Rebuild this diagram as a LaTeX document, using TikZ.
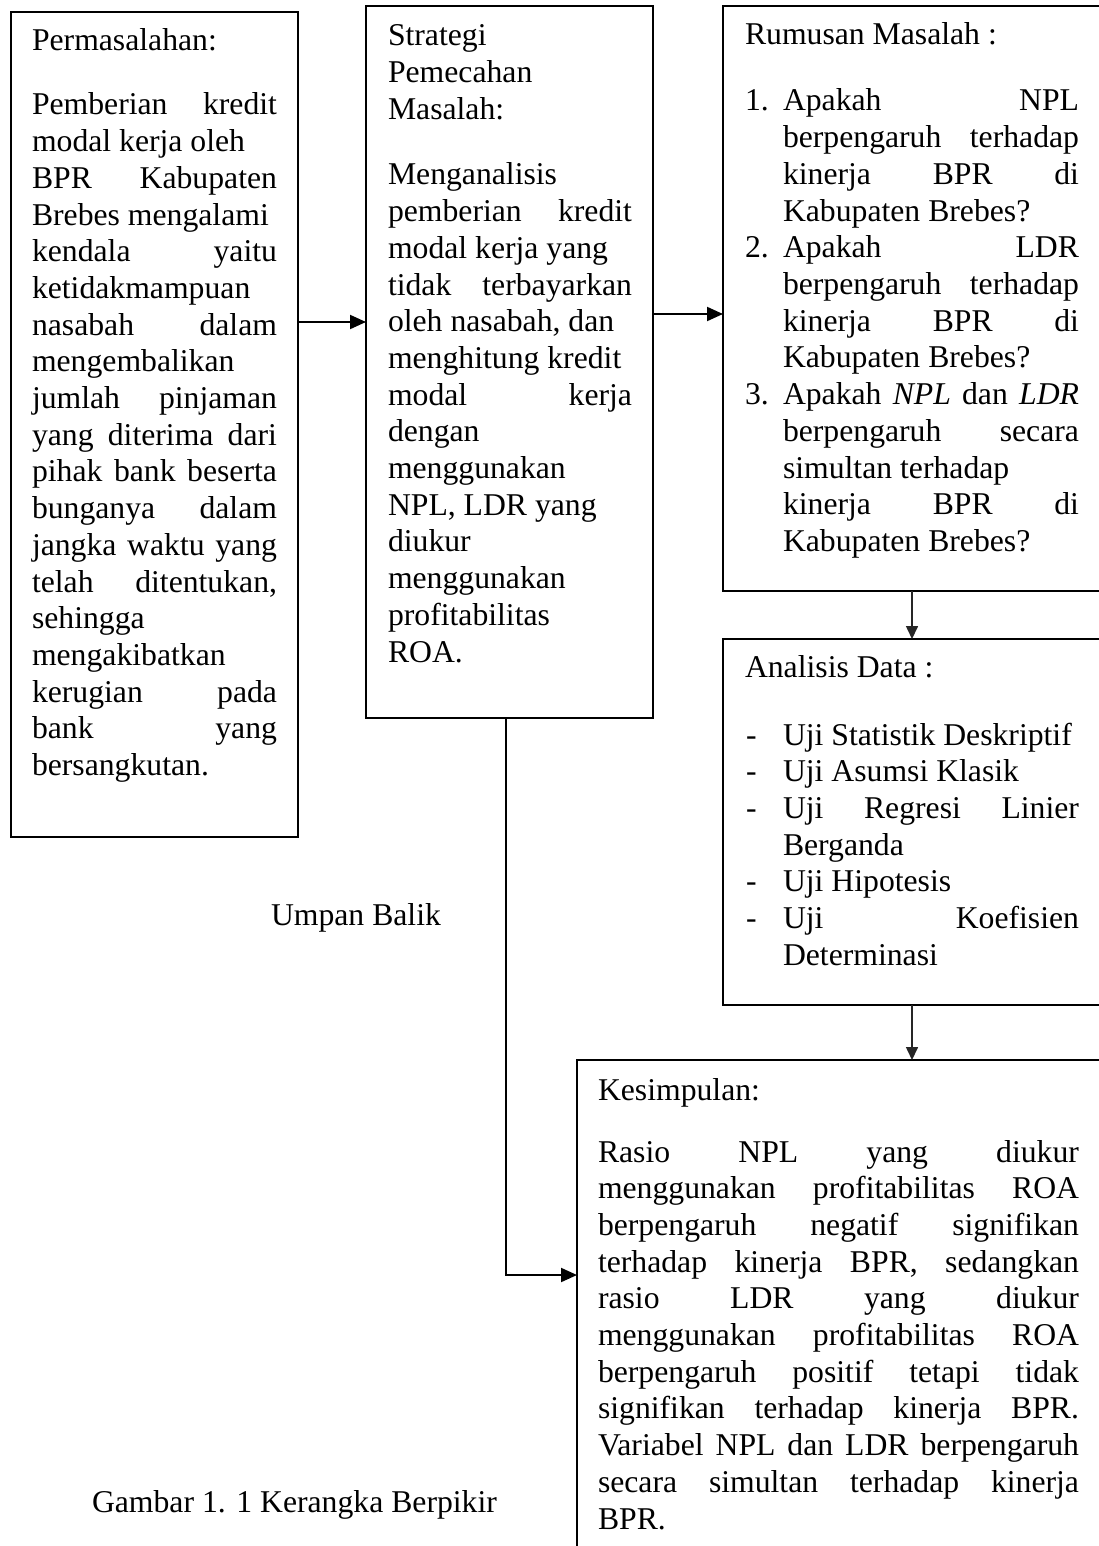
\documentclass[tikz,border=0pt]{standalone}
\usepackage{fontspec}
\setmainfont{Liberation Serif}
\usetikzlibrary{arrows.meta}
\newcommand{\J}[1]{\makebox[\linewidth][s]{#1}}
\begin{document}
\begin{tikzpicture}[x=1pt,y=-1pt,
  box/.style={draw, line width=2pt, inner sep=0pt, outer sep=0pt, anchor=north west},
  txt/.style={anchor=base west, inner sep=0pt, outer sep=0pt, font=\fontsize{31.7}{36.7}\selectfont},
  harrow/.style={line width=2pt, -{Triangle[length=16pt,width=14pt]}},
  varrow/.style={line width=1.6pt, draw=black!85, -{Triangle[length=13pt,width=12pt]}}]
\useasboundingbox (0,0) rectangle (1098,1546);
\fill[white] (0,0) rectangle (1098,1546);

% boxes
\node[box, minimum width=287pt, minimum height=825pt] (b1) at (11,12) {};
\node[box, minimum width=287pt, minimum height=712pt] (b2) at (366,6) {};
\node[box, minimum width=387pt, minimum height=585pt] (b3) at (723,6) {};
\node[box, minimum width=387pt, minimum height=366pt] (b4) at (723,639) {};
\node[box, minimum width=533pt, minimum height=520pt] (b5) at (577,1060) {};

% connector helpers
\coordinate (y1) at (0,322);
\coordinate (y2) at (0,314);
\coordinate (ax) at (912,0);
\coordinate (fb) at (506,1275);

\draw[harrow] (b1.east |- y1) -- (b2.west |- y1);
\draw[harrow] (b2.east |- y2) -- (b3.west |- y2);
\draw[varrow] (b3.south -| ax) -- (b4.north -| ax);
\draw[varrow] (b4.south -| ax) -- (b5.north -| ax);
\draw[harrow] (b2.south -| fb) -- (fb) -- (b5.west |- fb);

% box 1 text
\node[txt] (h1) at (32,51) {Permasalahan:};
\node[txt] (t1) at (32,115) {\parbox[t]{245pt}{%
\J{Pemberian kredit}\\
modal kerja oleh\\
\J{BPR Kabupaten}\\
Brebes mengalami\\
\J{kendala yaitu}\\
ketidakmampuan\\
\J{nasabah dalam}\\
mengembalikan\\
\J{jumlah pinjaman}\\
\J{yang diterima dari}\\
\J{pihak bank beserta}\\
\J{bunganya dalam}\\
\J{jangka waktu yang}\\
\J{telah ditentukan,}\\
sehingga\\
mengakibatkan\\
\J{kerugian pada}\\
\J{bank yang}\\
bersangkutan.}};

% box 2 text
\node[txt] (h2) at (388,46) {\parbox[t]{244pt}{Strategi\\Pemecahan\\Masalah:}};
\node[txt] (t2) at (388,185) {\parbox[t]{244pt}{%
Menganalisis\\
\J{pemberian kredit}\\
modal kerja yang\\
\J{tidak terbayarkan}\\
oleh nasabah, dan\\
menghitung kredit\\
\J{modal kerja}\\
dengan\\
menggunakan\\
NPL, LDR yang\\
diukur\\
menggunakan\\
profitabilitas\\
ROA.}};

% box 3 text
\node[txt] (h3) at (745,45) {Rumusan Masalah :};
\node[txt] (n31) at (745,111) {1.};
\node[txt] (t31) at (783,111) {\parbox[t]{296pt}{%
\J{Apakah NPL}\\
\J{berpengaruh terhadap}\\
\J{kinerja BPR di}\\
Kabupaten Brebes?}};
\node[txt] (n32) at (745,257.8) {2.};
\node[txt] (t32) at (783,257.8) {\parbox[t]{296pt}{%
\J{Apakah LDR}\\
\J{berpengaruh terhadap}\\
\J{kinerja BPR di}\\
Kabupaten Brebes?}};
\node[txt] (n33) at (745,404.6) {3.};
\node[txt] (t33) at (783,404.6) {\parbox[t]{296pt}{%
\J{Apakah \textit{NPL} dan \textit{LDR}}\\
\J{berpengaruh secara}\\
simultan terhadap\\
\J{kinerja BPR di}\\
Kabupaten Brebes?}};

% box 4 text
\node[txt] (h4) at (745,677) {Analisis Data :};
\node[txt] (d41) at (746,745) {-};
\node[txt] (d42) at (746,781.7) {-};
\node[txt] (d43) at (746,818.4) {-};
\node[txt] (d44) at (746,891.8) {-};
\node[txt] (d45) at (746,928.5) {-};
\node[txt] (t4) at (783,745) {\parbox[t]{296pt}{%
Uji Statistik Deskriptif\\
Uji Asumsi Klasik\\
\J{Uji Regresi Linier}\\
Berganda\\
Uji Hipotesis\\
\J{Uji Koefisien}\\
Determinasi}};

% box 5 text
\node[txt] (h5) at (598,1100) {Kesimpulan:};
\node[txt] (t5) at (598,1162) {\parbox[t]{481pt}{%
\J{Rasio NPL yang diukur}\\
\J{menggunakan profitabilitas ROA}\\
\J{berpengaruh negatif signifikan}\\
\J{terhadap kinerja BPR, sedangkan}\\
\J{rasio LDR yang diukur}\\
\J{menggunakan profitabilitas ROA}\\
\J{berpengaruh positif tetapi tidak}\\
\J{signifikan terhadap kinerja BPR.}\\
\J{Variabel NPL dan LDR berpengaruh}\\
\J{secara simultan terhadap kinerja}\\
BPR.}};

% free labels
\node[txt] (ub) at (271,925) {Umpan Balik};
\node[txt] (cap) at (92,1512) {Gambar 1. 1 Kerangka Berpikir};
\end{tikzpicture}
\end{document}
